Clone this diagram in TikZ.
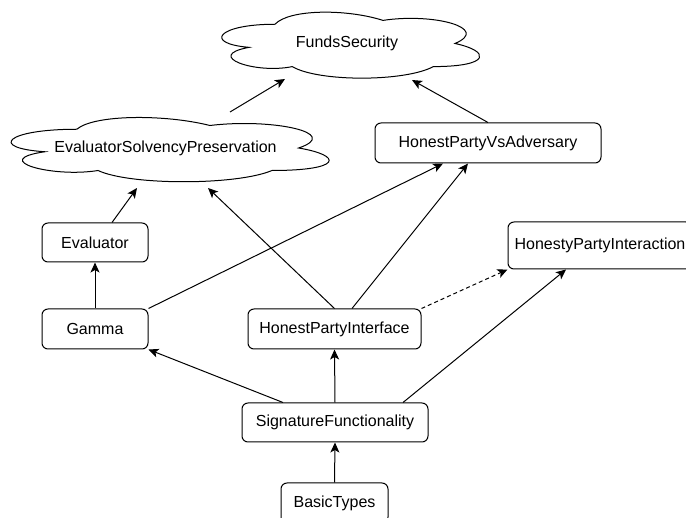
\documentclass[tikz,border=0pt]{standalone}
\usepackage{fontspec}
\setmainfont{Liberation Sans}
\usetikzlibrary{calc,arrows.meta}
\newcommand\dcloud[4]{%
  \draw[cloudline] ({#1+0.25*#3},{#2+0.25*#4})
    .. controls ({#1+0.05*#3},{#2+0.25*#4}) and ({#1},{#2+0.5*#4}) .. ({#1+0.16*#3},{#2+0.55*#4})
    .. controls ({#1},{#2+0.66*#4}) and ({#1+0.18*#3},{#2+0.9*#4}) .. ({#1+0.31*#3},{#2+0.8*#4})
    .. controls ({#1+0.4*#3},{#2+#4}) and ({#1+0.7*#3},{#2+#4}) .. ({#1+0.8*#3},{#2+0.8*#4})
    .. controls ({#1+#3},{#2+0.8*#4}) and ({#1+#3},{#2+0.6*#4}) .. ({#1+0.875*#3},{#2+0.5*#4})
    .. controls ({#1+#3},{#2+0.3*#4}) and ({#1+0.8*#3},{#2+0.1*#4}) .. ({#1+0.625*#3},{#2+0.2*#4})
    .. controls ({#1+0.5*#3},{#2+0.05*#4}) and ({#1+0.3*#3},{#2+0.05*#4}) .. cycle;}
\begin{document}
\begin{tikzpicture}[x=1pt,y=-1pt,
  cloudline/.style={draw=black,line width=1pt,fill=white},
  box/.style={draw=black,line width=1pt,rounded corners=6pt,fill=white,
    inner sep=0pt,font=\fontsize{16}{19}\selectfont,align=center},
  cloudtxt/.style={inner sep=0pt,font=\fontsize{16}{19}\selectfont},
  arr/.style={draw=black,line width=1pt,-{Stealth[length=10pt,width=9pt,inset=2.5pt]}},
  dsh/.style={arr,dash pattern=on 4pt off 3pt}]
\useasboundingbox (0,0) rectangle (686,518);
% clouds
\dcloud{203}{5}{288}{77}
\node[cloudtxt] (fs) at (347,43.5) {FundsSecurity};
\dcloud{-12}{110.5}{355}{75}
\node[cloudtxt] (esp) at (165.5,148) {EvaluatorSolvencyPreservation};
% boxes
\node[box,minimum width=226pt,minimum height=40pt] (hpva) at (488,143) {HonestPartyVsAdversary};
\node[box,minimum width=184pt,minimum height=47pt] (hpint) at (600,245.5) {HonestyPartyInteraction};
\node[box,minimum width=106pt,minimum height=39pt] (ev) at (95,242.5) {Evaluator};
\node[box,minimum width=106pt,minimum height=40pt] (gamma) at (95,329) {Gamma};
\node[box,minimum width=173pt,minimum height=40pt] (hpi) at (334.5,329) {HonestPartyInterface};
\node[box,minimum width=186pt,minimum height=39pt] (sig) at (335,422.5) {SignatureFunctionality};
\node[box,minimum width=107pt,minimum height=40pt] (bt) at (334.5,503) {BasicTypes};
% connectors
\draw[arr] ($(esp)+(64.5,-36)$) -- ($(fs)+(-62,35.5)$);
\draw[arr] (hpva.north) -- ($(fs)+(65,36.5)$);
\draw[arr] ([xshift=17pt]ev.north) -- ($(esp)+(-28.5,40)$);
\draw[arr] (gamma.north) -- (ev.south);
\draw[arr] (gamma.north east) -- ([xshift=-45pt]hpva.south);
\draw[arr] (hpi.north) -- ($(esp)+(42.5,40)$);
\draw[arr] ([xshift=17.5pt]hpi.north) -- ([xshift=-20pt]hpva.south);
\draw[dsh] (hpi.north east) -- (hpint.south west);
\draw[arr] ([xshift=-52pt]sig.north) -- (gamma.south east);
\draw[arr] (sig.north) -- (hpi.south);
\draw[arr] ([xshift=68pt]sig.north) -- ([xshift=-34pt]hpint.south);
\draw[arr] (bt.north) -- (sig.south);
\end{tikzpicture}
\end{document}
